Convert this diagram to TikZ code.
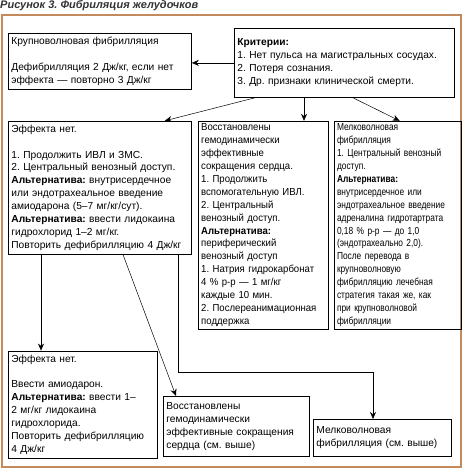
\documentclass[tikz,border=0pt]{standalone}
\usepackage{fontspec}
\setmainfont{Liberation Sans}
\newfontfamily\narrowsans[FakeStretch=0.82]{Liberation Sans}
\newfontfamily\tightsans[FakeStretch=0.94]{Liberation Sans}
\usetikzlibrary{arrows.meta,positioning}
\tikzset{%
  arrow/.style={line width=0.5pt,-{Stealth[length=7pt,width=6pt]}},
  box/.style={draw,line width=0.8pt,anchor=north west,align=left,inner xsep=3pt,inner ysep=2pt,
    font=\fontsize{10.2}{12.9}\selectfont},
  narrowbox/.style={box,font=\fontsize{10.2}{12.9}\selectfont\narrowsans},
  tightbox/.style={box,font=\fontsize{10.2}{12.9}\selectfont\tightsans},
  title/.style={anchor=west,inner sep=0pt,font=\fontsize{11}{12}\selectfont\bfseries\itshape},
}
\definecolor{frame}{HTML}{C48A5C}
\definecolor{titlegray}{HTML}{333333}
\frenchspacing

\begin{document}
\begin{tikzpicture}[x=1pt,y=-1pt]
      \useasboundingbox (0,0) rectangle (464,470);
      \draw[frame,line width=1.2pt] (2,15) rectangle (461,467);
      \node[title,text=titlegray] (caption) at (0,6) {Рисунок 3. Фибриляция желудочков};

      \node[box,text width=214pt,minimum height=69pt] (crit) at (234,28)
        {\textbf{Критерии:}\\ 1. Нет пульса на магистральных сосудах.\\ 2. Потеря сознания.\\ 3. Др. признаки клинической смерти.};
      \node[box,text width=177pt,minimum height=56pt] (large) at (8,33)
        {Крупноволновая фибрилляция\\[12.9pt] Дефибрилляция 2 Дж/кг, если нет\\ эффекта — повторно 3 Дж/кг};
      \node[box,text width=177pt,minimum height=133pt,below=31pt of large.south west,anchor=north west] (nores)
        {Эффекта нет.\\[12.9pt] 1. Продолжить ИВЛ и ЗМС.\\ 2. Центральный венозный доступ.\\
         \textbf{Альтернатива:} внутрисердечное\\ или эндотрахеальное введение\\ амиодарона (5–7 мг/кг/сут).\\
         \textbf{Альтернатива:} ввести лидокаина\\ гидрохлорид 1–2 мг/кг.\\ Повторить дефибрилляцию 4 Дж/кг};
      \node[tightbox,text width=124pt,minimum height=208pt,right=6pt of nores.north east,anchor=north west] (restored)
        {Восстановлены\\ гемодинамически\\ эффективные\\ сокращения сердца.\\ 1. Продолжить\\ вспомогательную ИВЛ.\\
         2. Центральный\\ венозный доступ.\\ \textbf{Альтернатива:}\\ периферический\\ венозный доступ\\
         1. Натрия гидрокарбонат\\ 4~\% р-р — 1 мг/кг\\ каждые 10 мин.\\ 2. Послереанимационная\\ поддержка};
      \node[narrowbox,text width=121pt,minimum height=208pt,right=5pt of restored.north east,anchor=north west] (small)
        {Мелковолновая\\ фибрилляция\\ 1. Центральный венозный\\ доступ.\\ \textbf{Альтернатива:}\\ внутрисердечное или\\
         эндотрахеальное введение\\ адреналина гидротартрата\\ 0,18~\% р-р — до 1,0\\ (эндотрахеально 2,0).\\
         После перевода в\\ крупноволновую\\ фибрилляцию лечебная\\ стратегия такая же, как\\ при крупноволновой\\ фибрилляции};
      \node[box,text width=143pt,minimum height=107pt,below=96pt of nores.south west,anchor=north west] (nores2)
        {Эффекта нет.\\[12.9pt] Ввести амиодарон.\\ \textbf{Альтернатива:} ввести 1–\\ 2 мг/кг лидокаина\\
         гидрохлорида.\\ Повторить дефибрилляцию\\ 4 Дж/кг};
      \node[box,text width=140pt,minimum height=60pt] (restored2) at (163,396)
        {Восстановлены\\ гемодинамически\\ эффективные сокращения\\ сердца (см. выше)};
      \node[box,text width=132pt,minimum height=37pt] (small2) at (313,419)
        {Мелковолновая\\ фибрилляция (см. выше)};

      \draw[arrow] (crit.west) -- (crit.west -| large.east);
      \draw[arrow] ([xshift=21pt]crit.south west) -- ([xshift=-27pt]nores.north east);
      \draw[arrow] ([xshift=70pt]crit.south west) -- ([xshift=70pt]crit.south west |- restored.north);
      \draw[arrow] ([xshift=119pt]crit.south west) -- ([xshift=66pt]small.north west);
      \draw[arrow] ([xshift=33pt]nores.south west) -- ([xshift=33pt]nores.south west |- nores2.north);
      \draw[arrow] ([xshift=115pt]nores.south west) -- ([xshift=13pt]restored2.north west);
      \draw[arrow] ([xshift=170pt]nores.south west) -- ++(0,118) -| ([xshift=60pt]small2.north west);
    \end{tikzpicture}
\end{document}
